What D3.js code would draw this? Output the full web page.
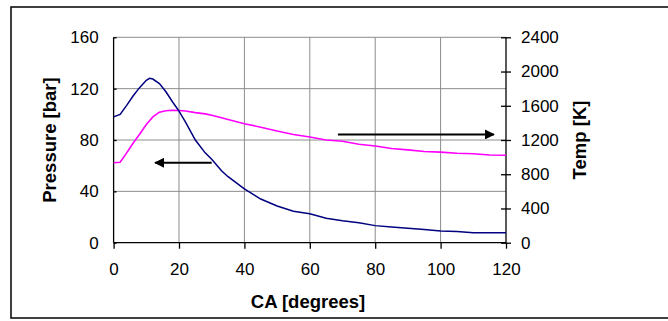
<!DOCTYPE html>
<html>
<head>
  <script src="https://d3js.org/d3.v7.min.js"></script>
  <style>
    body { margin: 0; background: #fff; }
    text { font-family: "Liberation Sans", Arial, sans-serif; fill: #000; }
    .tick text { font-size: 17px; }
    .title { font-size: 18.5px; font-weight: bold; }
    .grid line { stroke: #8c8c8c; stroke-width: 1; }
  </style>
</head>
<body>
<div id="chart"></div>
<script>
  // crank angle [deg]
  var ca = [0, 2, 4, 6, 8, 10, 11, 12, 14, 16, 18, 20, 22, 25, 28, 30, 33, 35, 40, 45,
            50, 55, 60, 65, 70, 75, 80, 85, 90, 95, 100, 105, 110, 115, 120];
  // cylinder pressure [bar], left axis
  var pressure = [98, 100, 107, 114.5, 121, 126.5, 128, 127.5, 124, 117.6, 109.8, 102.5, 94, 80, 70, 65, 56, 51.4, 42, 34,
                  28.6, 24.5, 22.5, 19, 17.1, 15.5, 13.3, 12.2, 11.2, 10.2, 9.2, 8.7, 7.8, 7.8, 7.8];
  // gas temperature [K], right axis
  var temp = [935, 940, 1050, 1165, 1270, 1380, 1425, 1470, 1525, 1542, 1548, 1545, 1538, 1520, 1505, 1490, 1460, 1440, 1390, 1350,
              1305, 1265, 1235, 1200, 1185, 1150, 1130, 1100, 1085, 1065, 1058, 1045, 1040, 1025, 1022];

  var xTicks = [0, 20, 40, 60, 80, 100, 120];
  var yLeftTicks = [0, 40, 80, 120, 160];
  var yRightTicks = [0, 400, 800, 1200, 1600, 2000, 2400];

  // arrows pointing to the axis each curve belongs to: [caFrom, caTo, pressureLevel]
  var arrows = [[30, 12.7, 62.3], [68.6, 116.3, 84.3]];

  var width = 668, height = 321;
  var plotLeft = 113.6, plotRight = 506, plotTop = 37.3, plotBottom = 242.7;

  var svg = d3.select("#chart").append("svg")
    .attr("width", width)
    .attr("height", height);

  // outer frame
  svg.append("rect")
    .attr("x", 11).attr("y", 7)
    .attr("width", 670).attr("height", 311)
    .attr("fill", "none")
    .attr("stroke", "#111")
    .attr("stroke-width", 1.6);

  var x = d3.scaleLinear().domain([0, 120]).range([plotLeft, plotRight]);
  var yL = d3.scaleLinear().domain([0, 160]).range([plotBottom, plotTop]);
  var yR = d3.scaleLinear().domain([0, 2400]).range([plotBottom, plotTop]);

  // grid
  var grid = svg.append("g").attr("class", "grid");
  grid.selectAll(".v").data(xTicks.slice(1, -1)).enter().append("line")
    .attr("x1", function(d) { return x(d); }).attr("x2", function(d) { return x(d); })
    .attr("y1", plotTop).attr("y2", plotBottom);
  grid.selectAll(".h").data(yLeftTicks.slice(1)).enter().append("line")
    .attr("x1", plotLeft).attr("x2", plotRight)
    .attr("y1", function(d) { return yL(d); }).attr("y2", function(d) { return yL(d); });

  // axes
  var xAxis = svg.append("g")
    .attr("transform", "translate(0," + plotBottom + ")")
    .call(d3.axisBottom(x).tickValues(xTicks).tickSize(6).tickPadding(14));
  var leftAxis = svg.append("g")
    .attr("transform", "translate(" + plotLeft + ",0)")
    .call(d3.axisLeft(yL).tickValues(yLeftTicks).tickSize(6).tickPadding(9));
  var rightAxis = svg.append("g")
    .attr("transform", "translate(" + plotRight + ",0)")
    .call(d3.axisRight(yR).tickValues(yRightTicks).tickFormat(d3.format("d")).tickSize(5).tickPadding(10));

  rightAxis.selectAll(".tick line").attr("x1", -5);
  leftAxis.selectAll(".tick line").attr("x2", 3);

  [xAxis, leftAxis, rightAxis].forEach(function(a) {
    a.attr("font-family", null).attr("font-size", null);
    a.select(".domain").attr("stroke", "#000").attr("stroke-width", 1.3);
    a.selectAll(".tick line").attr("stroke", "#000").attr("stroke-width", 1.3);
  });
  leftAxis.select(".domain").attr("d", "M0," + plotTop + "V" + plotBottom);
  rightAxis.select(".domain").attr("d", "M0," + plotTop + "V" + plotBottom);
  xAxis.select(".domain").attr("d", "M" + plotLeft + ",0H" + plotRight);

  // curves
  var pLine = d3.line()
    .x(function(d, i) { return x(ca[i]); })
    .y(function(d) { return yL(d); });
  var tLine = d3.line()
    .x(function(d, i) { return x(ca[i]); })
    .y(function(d) { return yR(d); });

  svg.append("path").datum(temp)
    .attr("d", tLine)
    .attr("fill", "none")
    .attr("stroke", "#ff00ff")
    .attr("stroke-width", 1.6);

  svg.append("path").datum(pressure)
    .attr("d", pLine)
    .attr("fill", "none")
    .attr("stroke", "#000080")
    .attr("stroke-width", 1.5);

  // arrows
  svg.append("defs").append("marker")
    .attr("id", "head")
    .attr("viewBox", "0 0 10 10")
    .attr("refX", 9).attr("refY", 5)
    .attr("markerWidth", 5).attr("markerHeight", 5)
    .attr("orient", "auto")
    .append("path").attr("d", "M0,0L10,5L0,10z").attr("fill", "#000");

  svg.selectAll(".arrow").data(arrows).enter().append("line")
    .attr("x1", function(d) { return x(d[0]); })
    .attr("x2", function(d) { return x(d[1]); })
    .attr("y1", function(d) { return yL(d[2]); })
    .attr("y2", function(d) { return yL(d[2]); })
    .attr("stroke", "#000")
    .attr("stroke-width", 2)
    .attr("marker-end", "url(#head)");

  // titles
  svg.append("text").attr("class", "title")
    .attr("x", 308).attr("y", 308)
    .attr("text-anchor", "middle")
    .text("CA [degrees]");
  svg.append("text").attr("class", "title")
    .attr("transform", "translate(56,140) rotate(-90)")
    .attr("text-anchor", "middle")
    .text("Pressure [bar]");
  svg.append("text").attr("class", "title")
    .attr("transform", "translate(586,140) rotate(-90)")
    .attr("text-anchor", "middle")
    .text("Temp [K]");
</script>
</body>
</html>
